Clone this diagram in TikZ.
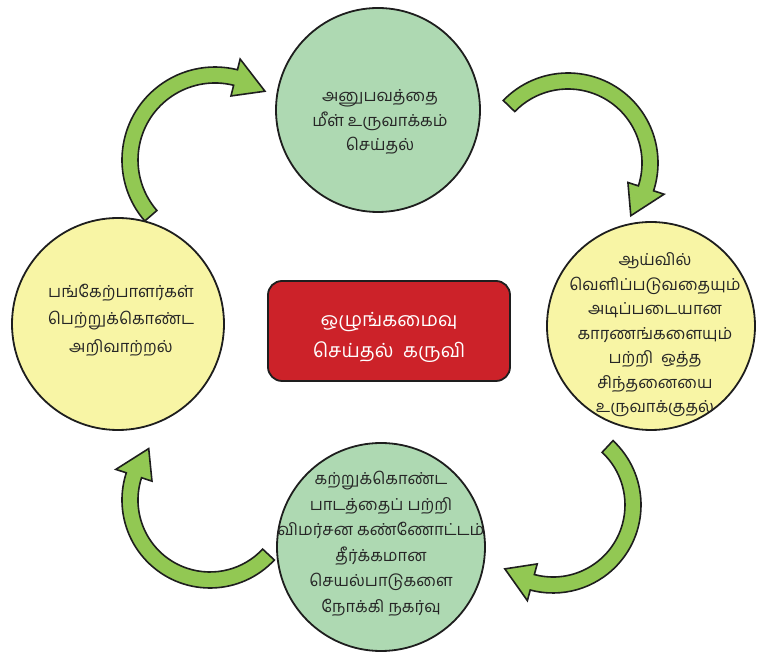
\documentclass[tikz,border=0pt]{standalone}
\usepackage{fontspec}
\newfontfamily\tamil[Script=Tamil]{Hind Madurai}
\usetikzlibrary{calc}
\definecolor{cgreen}{RGB}{174,217,178}
\definecolor{cyellow}{RGB}{248,245,165}
\definecolor{agreen}{RGB}{146,200,83}
\definecolor{cred}{RGB}{204,34,41}
\definecolor{edge}{RGB}{30,30,30}
\newcommand{\blockarrow}[5]{%
 \pgfmathsetmacro\hb{#5+22}%
 \draw[garrow] ({#1+(#3+8)*cos(#4)},{#2+(#3+8)*sin(#4)}) arc[start angle=#4, end angle=\hb, radius=#3+8]
 -- ({#1+(#3+19)*cos(\hb)},{#2+(#3+19)*sin(\hb)})
 -- ({#1+#3*cos(#5)},{#2+#3*sin(#5)})
 -- ({#1+(#3-19)*cos(\hb)},{#2+(#3-19)*sin(\hb)})
 -- ({#1+(#3-8)*cos(\hb)},{#2+(#3-8)*sin(\hb)})
 arc[start angle=\hb, end angle=#4, radius=#3-8] -- cycle;}
\begin{document}
\begin{tikzpicture}[x=1pt,y=1pt,
  garrow/.style={fill=agreen,draw=edge,line width=1.6pt,line join=miter},
  bubble/.style={circle,draw=edge,line width=1.8pt,inner sep=0pt},
  btext/.style={align=center,font=\tamil\fontsize{16.5}{24.5}\selectfont,text=black!85}]
\useasboundingbox (0,0) rectangle (764,653);
% arrows
\coordinate (c1) at (215,493);
\blockarrow{215}{493}{85}{221}{54}
\blockarrow{568}{490}{82}{136}{-40}
\blockarrow{553}{148}{80}{47}{-127}
\blockarrow{210}{153}{80}{-43}{-220}
% circles
\node[bubble,fill=cgreen,minimum size=204pt] (top) at (378,543) {};
\node[bubble,fill=cyellow,minimum size=208pt] (right) at (651,327) {};
\node[bubble,fill=cgreen,minimum size=208pt] (bottom) at (381,106) {};
\node[bubble,fill=cyellow,minimum size=212pt] (left) at (118,329) {};
\node[draw=edge,line width=1.8pt,fill=cred,rounded corners=14pt,minimum width=242pt,minimum height=100pt] (center) at (389,322) {};
% texts
\node[btext] (ttop) at (380,531) {அனுபவத்தை\\மீள் உருவாக்கம்\\செய்தல்};
\node[btext] (tright) at (655,318) {ஆய்வில்\\வெளிப்படுவதையும்\\அடிப்படையான\\காரணங்களையும்\\பற்றி\ \ ஒத்த\\சிந்தனையை\\உருவாக்குதல்};
\node[btext,font=\tamil\fontsize{16.5}{25.5}\selectfont] (tbottom) at (381,109) {கற்றுக்கொண்ட\\பாடத்தைப் பற்றி\\விமர்சன கண்ணோட்டம்\\தீர்க்கமான\\செயல்பாடுகளை\\நோக்கி நகர்வு};
\node[btext,font=\tamil\fontsize{16.5}{27.5}\selectfont] (tleft) at (121,333) {பங்கேற்பாளர்கள்\\பெற்றுக்கொண்ட\\அறிவாற்றல்};
\node[btext,text=white,font=\tamil\fontsize{19.5}{31}\selectfont] (tcenter) at (389,316) {ஒழுங்கமைவு\\செய்தல்\ \ கருவி};
\end{tikzpicture}
\end{document}
